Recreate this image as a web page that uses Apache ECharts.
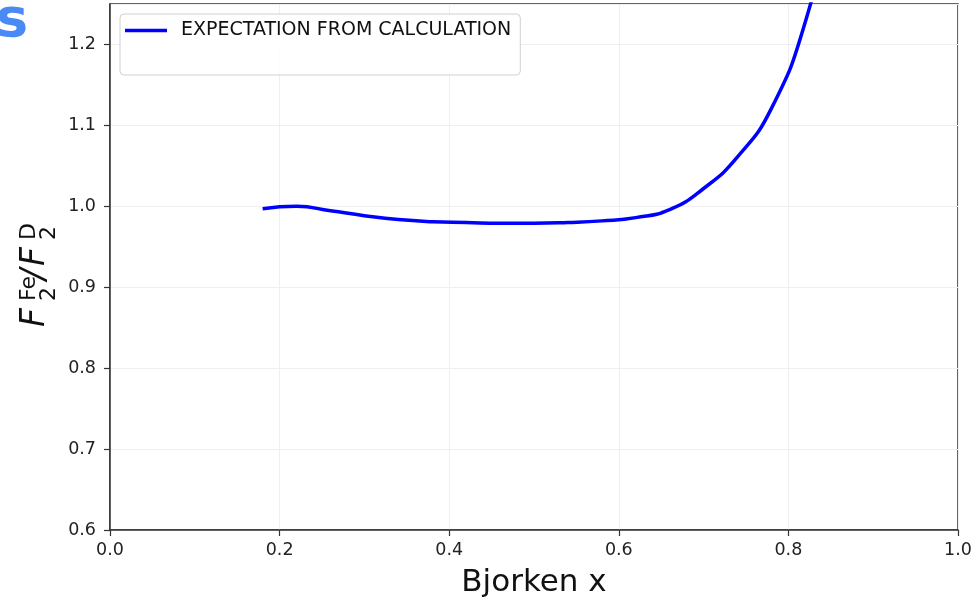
<!DOCTYPE html>
<html>
<head>
<meta charset="utf-8">
<title>F2 ratio</title>
<script src="https://cdn.jsdelivr.net/npm/echarts@6/dist/echarts.min.js"></script>
<style>
  html, body { margin: 0; padding: 0; background: #fff; }
  #chart { width: 978px; height: 605px; }
</style>
</head>
<body>
<div id="chart"></div>
<script>
// values
const bjorkenX = [0.18, 0.22, 0.26, 0.30, 0.34, 0.38, 0.42, 0.46, 0.50, 0.54, 0.58, 0.62, 0.66, 0.70, 0.74, 0.78, 0.82, 0.86];
const ratioFe = [0.997, 1.000, 0.9945, 0.9884, 0.9836, 0.981, 0.980, 0.979, 0.979, 0.980, 0.982, 0.986, 0.996, 1.022, 1.061, 1.121, 1.228, 1.40];
const seriesName = 'EXPECTATION FROM CALCULATION';

const font = 'DejaVu Sans';

document.addEventListener('DOMContentLoaded', function() {
    const chartDom = document.getElementById('chart');
    const myChart = echarts.init(chartDom, null, { renderer: 'canvas' });

    const points = bjorkenX.map((x, i) => [x, ratioFe[i]]);

    // pieces of the y axis title F2^Fe / F2^D, laid out along the rotated baseline
    const labelParts = [
        { text: 'F', x: 0, base: 0, size: 33, italic: true },
        { text: 'Fe', x: 26, base: -9, size: 22 },
        { text: '2', x: 26, base: 11, size: 22 },
        { text: '/', x: 47, base: 0, size: 33, italic: true },
        { text: 'F', x: 61, base: 0, size: 33, italic: true },
        { text: 'D', x: 87, base: -9, size: 22 },
        { text: '2', x: 87, base: 11, size: 22 }
    ];

    const option = {
        animation: false,
        backgroundColor: '#fff',
        grid: {
            left: 110,
            right: 20,
            top: 4,
            bottom: 75,
            show: true,
            borderColor: '#333',
            borderWidth: 1.5
        },
        legend: {
            left: 120,
            top: 14,
            orient: 'vertical',
            padding: [7, 9, 35, 5],
            itemWidth: 42,
            itemHeight: 3.5,
            borderColor: '#d0d0d0',
            borderWidth: 1,
            borderRadius: 4,
            backgroundColor: 'rgba(255,255,255,0.85)',
            textStyle: { fontFamily: font, fontSize: 19, color: '#111', padding: [0, 0, 0, 9] },
            data: [{ name: seriesName, icon: 'rect', itemStyle: { color: '#0000ff' } }]
        },
        xAxis: {
            type: 'value',
            min: 0,
            max: 1,
            interval: 0.2,
            name: 'Bjorken x',
            nameLocation: 'middle',
            nameGap: 37,
            nameTextStyle: { fontFamily: font, fontSize: 31, color: '#111' },
            axisLine: { show: true, lineStyle: { color: '#333', width: 1.5 } },
            axisTick: { show: true, inside: false, length: 6, lineStyle: { color: '#333', width: 1.2 } },
            axisLabel: {
                fontFamily: font, fontSize: 17.5, color: '#222', margin: 11,
                formatter: v => v.toFixed(1)
            },
            splitLine: { show: true, lineStyle: { color: '#efefef', width: 1 } }
        },
        yAxis: {
            type: 'value',
            min: 0.6,
            max: 1.25,
            interval: 0.1,
            axisLine: { show: true, lineStyle: { color: '#333', width: 1.5 } },
            axisTick: { show: true, inside: false, length: 6, lineStyle: { color: '#333', width: 1.2 } },
            axisLabel: {
                fontFamily: font, fontSize: 17.5, color: '#222', margin: 14,
                showMaxLabel: false,
                formatter: v => v.toFixed(1)
            },
            splitLine: { show: true, lineStyle: { color: '#efefef', width: 1 } }
        },
        series: [{
            name: seriesName,
            type: 'line',
            data: points,
            smooth: 0.5,
            symbol: 'none',
            clip: true,
            lineStyle: { color: '#0000ff', width: 3.5 },
            itemStyle: { color: '#0000ff' }
        }],
        graphic: [
            {
                // clipped blue letter sitting at the top left corner
                type: 'text',
                left: -4,
                top: -5,
                style: { text: 's', font: 'bold 54px "DejaVu Sans"', fill: '#4a8af4' }
            },
            {
                type: 'group',
                x: 45,
                y: 327,
                rotation: Math.PI / 2,
                children: labelParts.map(p => ({
                    type: 'text',
                    x: p.x,
                    y: p.base - 0.3 * p.size,
                    style: {
                        text: p.text,
                        font: (p.italic ? 'italic ' : '') + p.size + 'px "DejaVu Sans"',
                        fill: '#111',
                        align: 'left',
                        verticalAlign: 'middle'
                    }
                }))
            }
        ]
    };

    myChart.setOption(option);
    window.addEventListener('resize', function() {
        myChart.resize();
    });
});
</script>
</body>
</html>
